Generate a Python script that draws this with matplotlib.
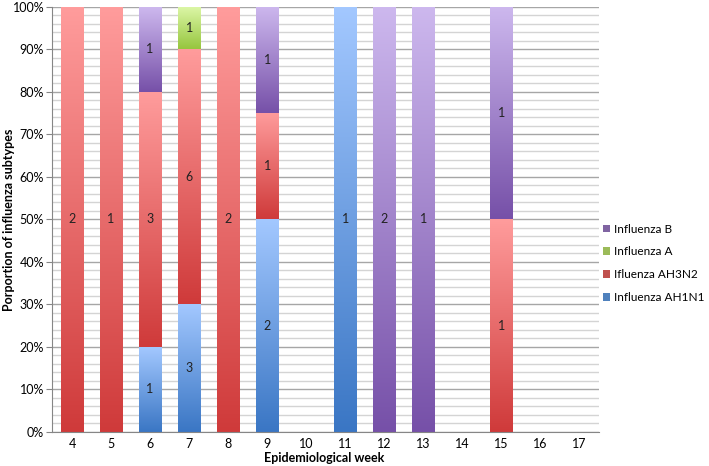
import numpy as np
import matplotlib
matplotlib.use("Agg")
import matplotlib.pyplot as plt
from matplotlib.colors import LinearSegmentedColormap
from matplotlib.patches import Patch

weeks = [4, 5, 6, 7, 8, 9, 10, 11, 12, 13, 14, 15, 16, 17]
ah1n1 = [0, 0, 1, 3, 0, 2, 0, 1, 0, 0, 0, 0, 0, 0]
ah3n2 = [2, 1, 3, 6, 2, 1, 0, 0, 0, 0, 0, 1, 0, 0]
flu_a = [0, 0, 0, 1, 0, 0, 0, 0, 0, 0, 0, 0, 0, 0]
flu_b = [0, 0, 1, 0, 0, 1, 0, 0, 2, 1, 0, 1, 0, 0]

series = [
    ("Influenza AH1N1", ah1n1, "#3A76C4", "#A3C8FF", "#4F81BD"),
    ("Ifluenza AH3N2", ah3n2, "#CF3A3A", "#FF9C9C", "#C0504D"),
    ("Influenza A", flu_a, "#96C63E", "#DDF7A8", "#9BBB59"),
    ("Influenza B", flu_b, "#7650A8", "#CDB8EE", "#8064A2"),
]

plt.rcParams['font.family'] = ['Lato', 'DejaVu Sans']

W, H = 709, 466
fig = plt.figure(figsize=(7.09, 4.66), dpi=100)
ax = fig.add_axes([0.074, 0.073, 0.771, 0.912])

width = 0.58
x = np.arange(len(weeks))
totals = np.array([sum(s[1][i] for s in series) for i in range(len(weeks))], dtype=float)
grad = np.linspace(0, 1, 256).reshape(-1, 1)

bottoms = np.zeros(len(weeks))
for name, vals, dark, light, _ in series:
    cmap = LinearSegmentedColormap.from_list(name, [dark, light])
    for i, v in enumerate(vals):
        if v == 0 or totals[i] == 0:
            continue
        frac = v / totals[i] * 100
        b = bottoms[i]
        ax.imshow(grad, cmap=cmap, origin='lower', aspect='auto',
                  extent=[x[i] - width / 2, x[i] + width / 2, b, b + frac],
                  zorder=2, interpolation='bilinear')
        ax.text(x[i], b + frac / 2, str(v), ha='center', va='center',
                fontsize=9, color='#222222', zorder=3)
        bottoms[i] += frac

ax.set_xlim(-0.5, len(weeks) - 0.5)
ax.set_ylim(0, 100)
ax.set_yticks(np.arange(0, 101, 10))
ax.set_yticklabels([f"{t}%" for t in range(0, 101, 10)], fontsize=9)
ax.set_yticks(np.arange(0, 101, 2), minor=True)
ax.set_xticks(x)
ax.set_xticklabels([str(w) for w in weeks], fontsize=9)
ax.grid(axis='y', which='major', color='#A6A6A6', linewidth=1.0, zorder=0)
ax.grid(axis='y', which='minor', color='#D4D4D4', linewidth=1.0, zorder=0)
ax.set_axisbelow(True)
for s in ['top', 'right']:
    ax.spines[s].set_visible(False)
ax.spines['left'].set_color('#868686')
ax.spines['bottom'].set_color('#868686')
ax.tick_params(axis='y', which='minor', length=0)
ax.tick_params(axis='y', which='major', length=4, color='#868686', pad=2)
ax.tick_params(axis='x', length=0, pad=4)

fig.text(324 / W, 1 - 458 / H, "Epidemiological week", fontsize=9,
         fontweight='bold', ha='center', va='center')
fig.text(9 / W, 1 - 220 / H, "Porportion of influenza subtypes", fontsize=9,
         fontweight='bold', ha='center', va='center', rotation=90)

handles = [Patch(facecolor=s[4], edgecolor='none') for s in reversed(series)]
labels = [s[0] for s in reversed(series)]
fig.legend(handles, labels, loc='center left', bbox_to_anchor=(0.836, 0.435),
           frameon=False, fontsize=8.5, handlelength=0.6, handleheight=0.6,
           handletextpad=0.3, labelspacing=1.0)

fig.savefig("out.png", dpi=100)
